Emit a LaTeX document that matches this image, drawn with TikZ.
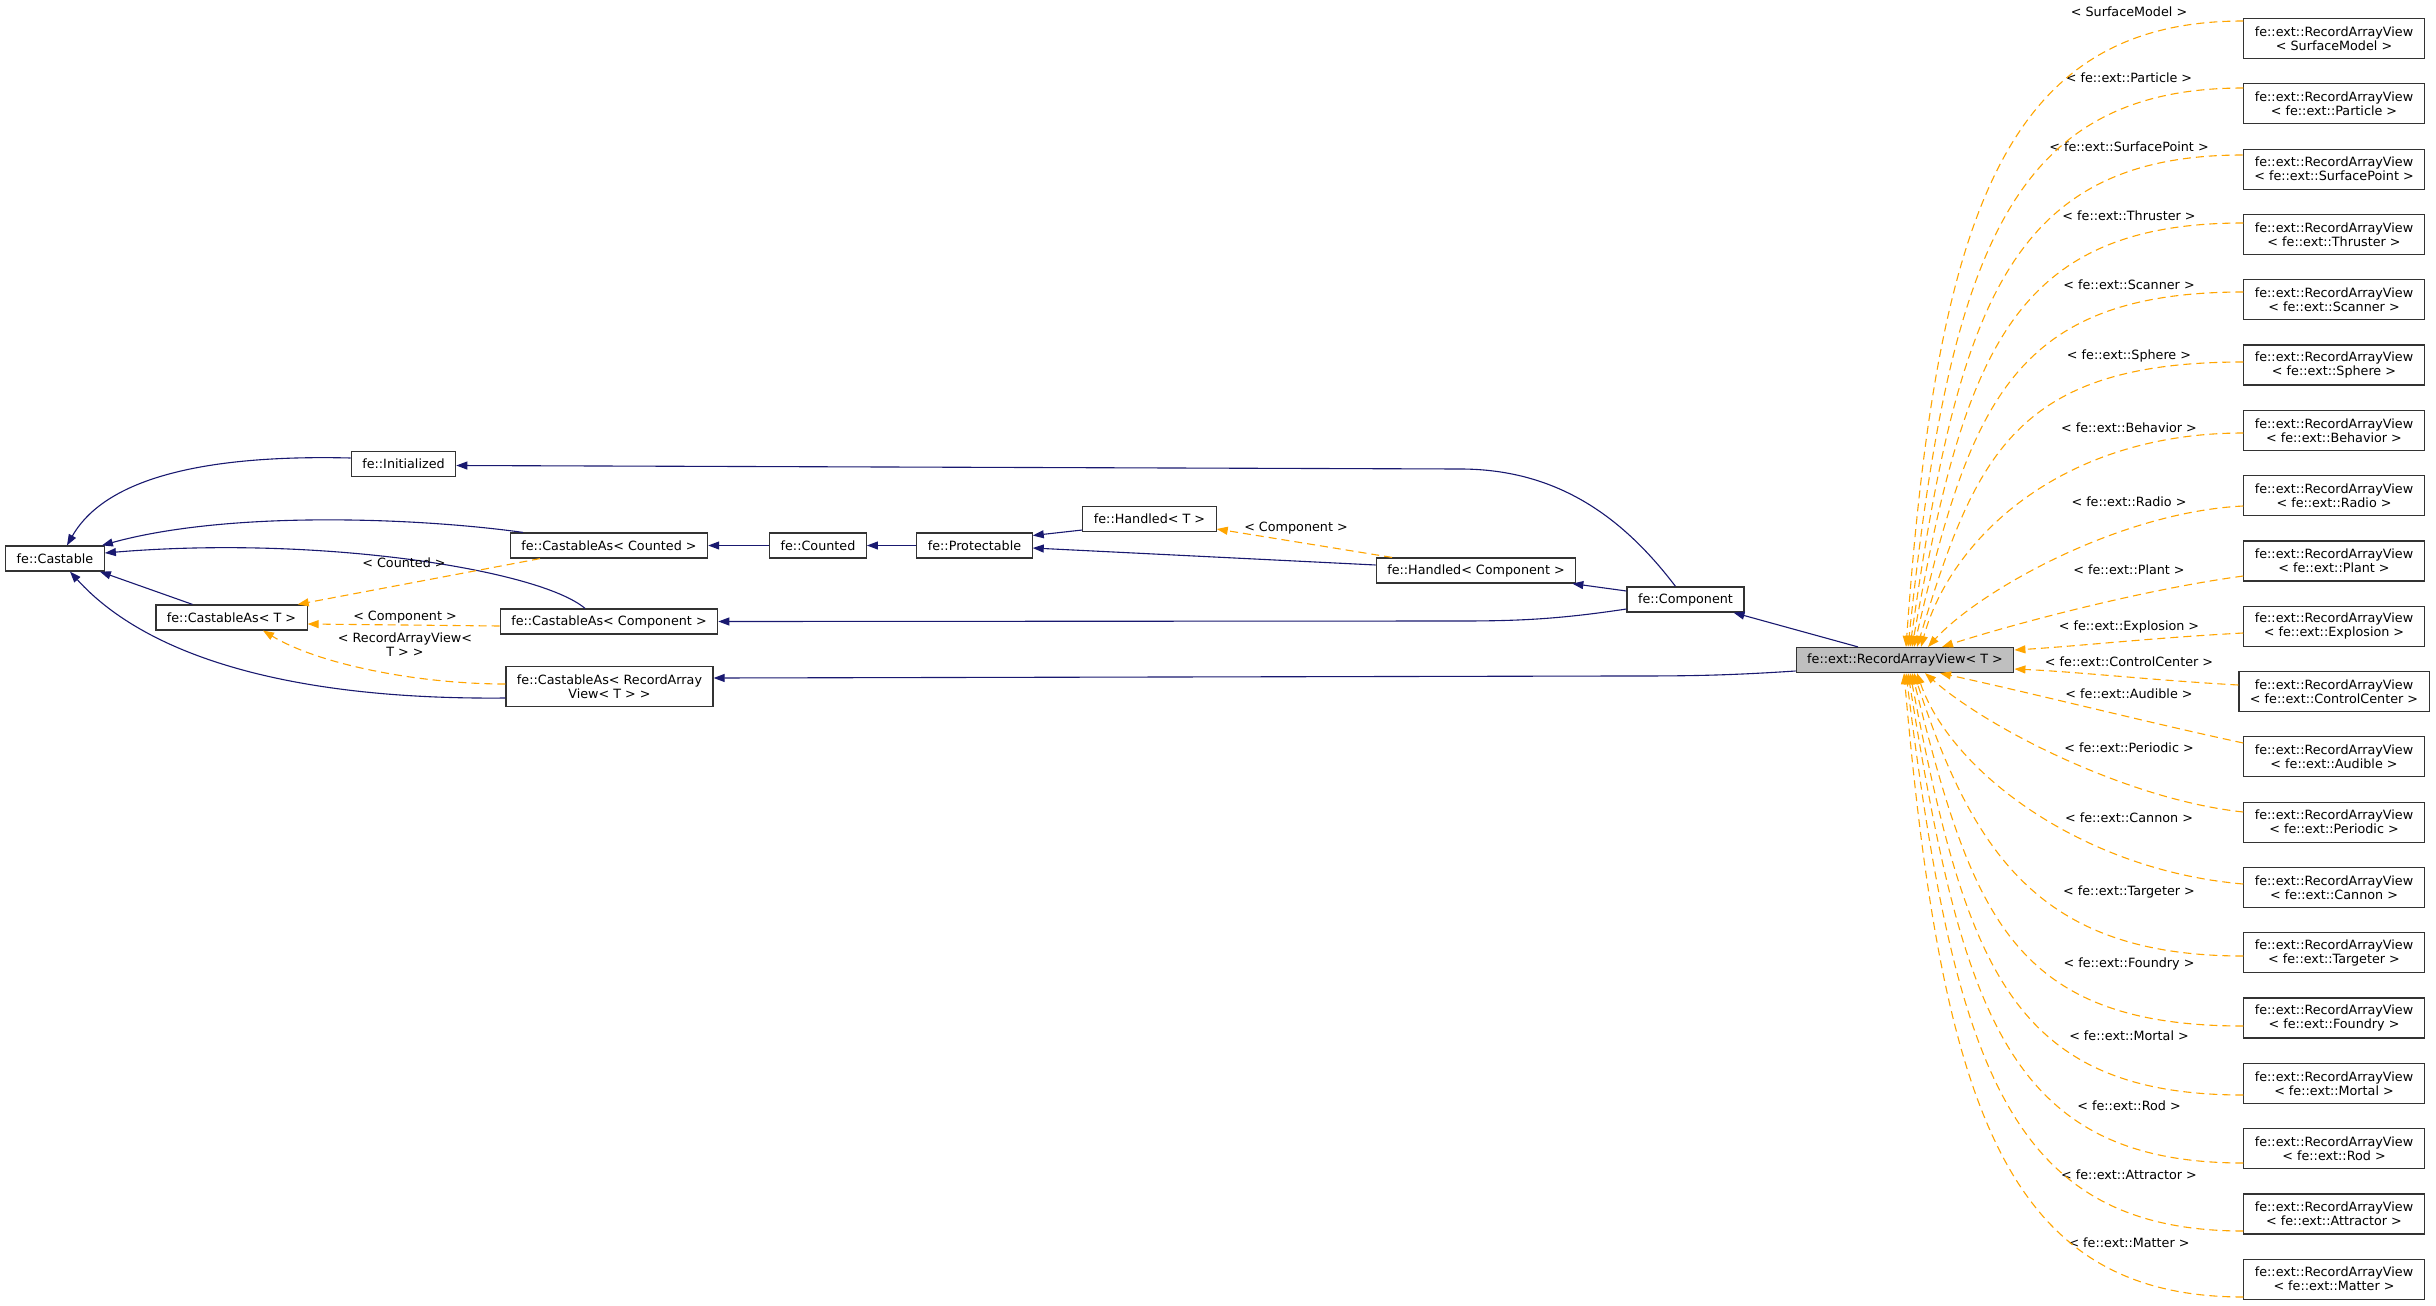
\documentclass[tikz,border=0pt]{standalone}
\usepackage{fontspec}
\setmainfont{DejaVu Sans}
\usepackage{tikz}
\usetikzlibrary{arrows.meta, calc}
\definecolor{edgeblue}{HTML}{191970}
\definecolor{tmplorange}{HTML}{FFA500}
\newcommand{\gvfont}{\fontsize{12.75pt}{14pt}\selectfont}

\begin{document}
\begin{tikzpicture}[x=1pt, y=-1pt,
  cls/.style={rectangle, draw=black!80, line width=1.2pt, fill=white,
              font=\gvfont, inner xsep=11pt, inner ysep=3pt,
              minimum height=25pt, align=center},
  twoline/.style={cls, minimum height=40pt},
  base/.style={cls, fill=gray!50},
  inherit/.style={-{Triangle[length=11pt, width=8pt]}, edgeblue, line width=1.1pt},
  tmpl/.style={-{Triangle[length=11pt, width=8pt]}, tmplorange, line width=1.1pt,
               dash pattern=on 8pt off 5pt},
  lbl/.style={font=\gvfont, align=center, inner sep=0pt}
]
\fill[white] (0,0) rectangle (2436,1306);
\useasboundingbox (0,0) rectangle (2436,1306);

%% Left part
\node[cls] (cast)     at (55,558.5)   {fe::Castable};
\node[cls] (init)     at (403.5,464)  {fe::Initialized};
\node[cls] (castT)    at (231.5,617.5) {fe::CastableAs< T >};
\node[cls] (castCnt)  at (609,545.5)  {fe::CastableAs< Counted >};
\node[cls] (castComp) at (609,621.5)  {fe::CastableAs< Component >};
\node[twoline] (castRAV) at (609.5,686.5) {fe::CastableAs< RecordArray\\View< T > >};

%% Middle part
\node[cls] (counted)  at (818,545.5)   {fe::Counted};
\node[cls] (prot)     at (974.5,545.5) {fe::Protectable};
\node[cls] (handT)    at (1149.5,519)  {fe::Handled< T >};
\node[cls] (handComp) at (1476,570.5)  {fe::Handled< Component >};
\node[cls] (comp)     at (1685.5,599.5) {fe::Component};
\node[base] (rav)     at (1905,660)    {fe::ext::RecordArrayView< T >};

%% Right column
\foreach \i/\arg/\ly in {0/SurfaceModel/12, 1/fe::ext::Particle/78,
    2/fe::ext::SurfacePoint/147, 3/fe::ext::Thruster/216, 4/fe::ext::Scanner/285,
    5/fe::ext::Sphere/356, 6/fe::ext::Behavior/428, 7/fe::ext::Radio/502,
    8/fe::ext::Plant/570, 9/fe::ext::Explosion/627, 10/fe::ext::ControlCenter/662,
    11/fe::ext::Audible/694, 12/fe::ext::Periodic/748, 13/fe::ext::Cannon/818,
    14/fe::ext::Targeter/892, 15/fe::ext::Foundry/964, 16/fe::ext::Mortal/1036,
    17/fe::ext::Rod/1106, 18/fe::ext::Attractor/1175, 19/fe::ext::Matter/1243} {
  \node[twoline] (r\i) at (2334,{38.5+65.3*\i}) {fe::ext::RecordArrayView\\< \arg\ >};
  \node[lbl] (l\i) at (2129,\ly) {< \arg\ >};
}

%% Inheritance
\draw[inherit] ([yshift=6pt]init.west) .. controls (230,455) and (110,470) .. ([xshift=12pt]cast.north);
\draw[inherit] ([xshift=-86pt]castCnt.north) .. controls (420,518) and (230,510) .. ([xshift=-3pt]cast.north east);
\draw[inherit] ([xshift=-24pt]castComp.north) .. controls (540,570) and (320,535) .. ([yshift=5.5pt]cast.east);
\draw[inherit] ([xshift=-39pt]castT.north) -- ([xshift=-5pt]cast.south east);
\draw[inherit] ([yshift=-11.5pt]castRAV.west) .. controls (300,700) and (150,660) .. ([xshift=15pt]cast.south);
\draw[inherit] (counted.west) -- (castCnt.east);
\draw[inherit] (prot.west) -- (counted.east);
\draw[inherit] ([yshift=-11pt]handT.west) -- ([yshift=10pt]prot.east);
\draw[inherit] ([yshift=5.5pt]handComp.west) -- ([yshift=-2.5pt]prot.east);
\draw[inherit] ([yshift=8.5pt]comp.west) -- ([xshift=-4pt]handComp.south east);
\draw[inherit] ([xshift=-10pt]comp.north) .. controls (1625,520) and (1560,469) .. (1460,469) -- ([yshift=-1.5pt]init.east);
\draw[inherit] ([yshift=-9.5pt]comp.west) .. controls (1560,619) and (1520,621) .. (1460,621) -- (castComp.east);
\draw[inherit] ([xshift=-47pt]rav.north) -- ([xshift=48pt]comp.south);
\draw[inherit] ([yshift=-11pt]rav.west) .. controls (1720,676) and (1680,676) .. (1620,676) -- ([yshift=8.5pt]castRAV.east);

%% Template instances
\draw[tmpl] ([xshift=-69pt]castCnt.south) -- ([xshift=-10pt]castT.north east);
\draw[tmpl] ([yshift=-4.5pt]castComp.west) -- ([yshift=-6.5pt]castT.east);
\draw[tmpl] ([yshift=2.5pt]castRAV.west) .. controls (420,684) and (320,665) .. ([xshift=31.5pt]castT.south);
\draw[tmpl] ([xshift=-84pt]handComp.north) -- ([yshift=-10pt]handT.east);
\node[lbl] (lCnt)  at (404,563) {< Counted >};
\node[lbl] (lComp) at (405,617) {< Component >};
\node[lbl] (lRAV)  at (405,645) {< RecordArrayView<\\T > >};
\node[lbl] (lHand) at (1296,528) {< Component >};

\foreach \i/\sy/\ax/\ay/\bx/\by/\anc/\tx/\ty in {
  0/17.5/2007/21/1937/210/north/1/0,
  1/15.8/2008/88/1949/258/north/3/0,
  2/14.1/2010/155/1958/306/north/5/0,
  3/11.4/2011/223/1964/355/north/7/0,
  4/7.7/2013/292/1970/404/north/9/0,
  5/3/2015/362/1975/456/north/12/0,
  6/-2.7/2060/433/1950/540/north/16/0,
  7/-10.4/2120/512/1980/590/north/23/0,
  8/-15.1/2140/590/2010/625/north/37/0,
  9/-6.8/2150/638/2080/646/east/0/10,
  10/6.5/2150/680/2080/672/east/0/-9,
  11/13.8/2150/723/2040/695/south/35/0,
  12/10.1/2130/800/1990/730/south/20/0,
  13/3.4/2080/870/1950/770/south/12/0,
  14/-3.3/2046/956/1975/861/south/9/0,
  15/-8/2011/1026/1972/913/south/7/0,
  16/-11.7/2010/1095/1966/963/south/5/0,
  17/-14.4/2008/1163/1962/1012/south/3/0,
  18/-17.1/2007/1231/1954/1061/south/1/0,
  19/-17.8/2006/1297/1942/1108/south/-1/0}
  \draw[tmpl] ([yshift=\sy pt]r\i.west) .. controls (\ax,\ay) and (\bx,\by) .. ([xshift=\tx pt, yshift=\ty pt]rav.\anc);
\end{tikzpicture}
\end{document}
